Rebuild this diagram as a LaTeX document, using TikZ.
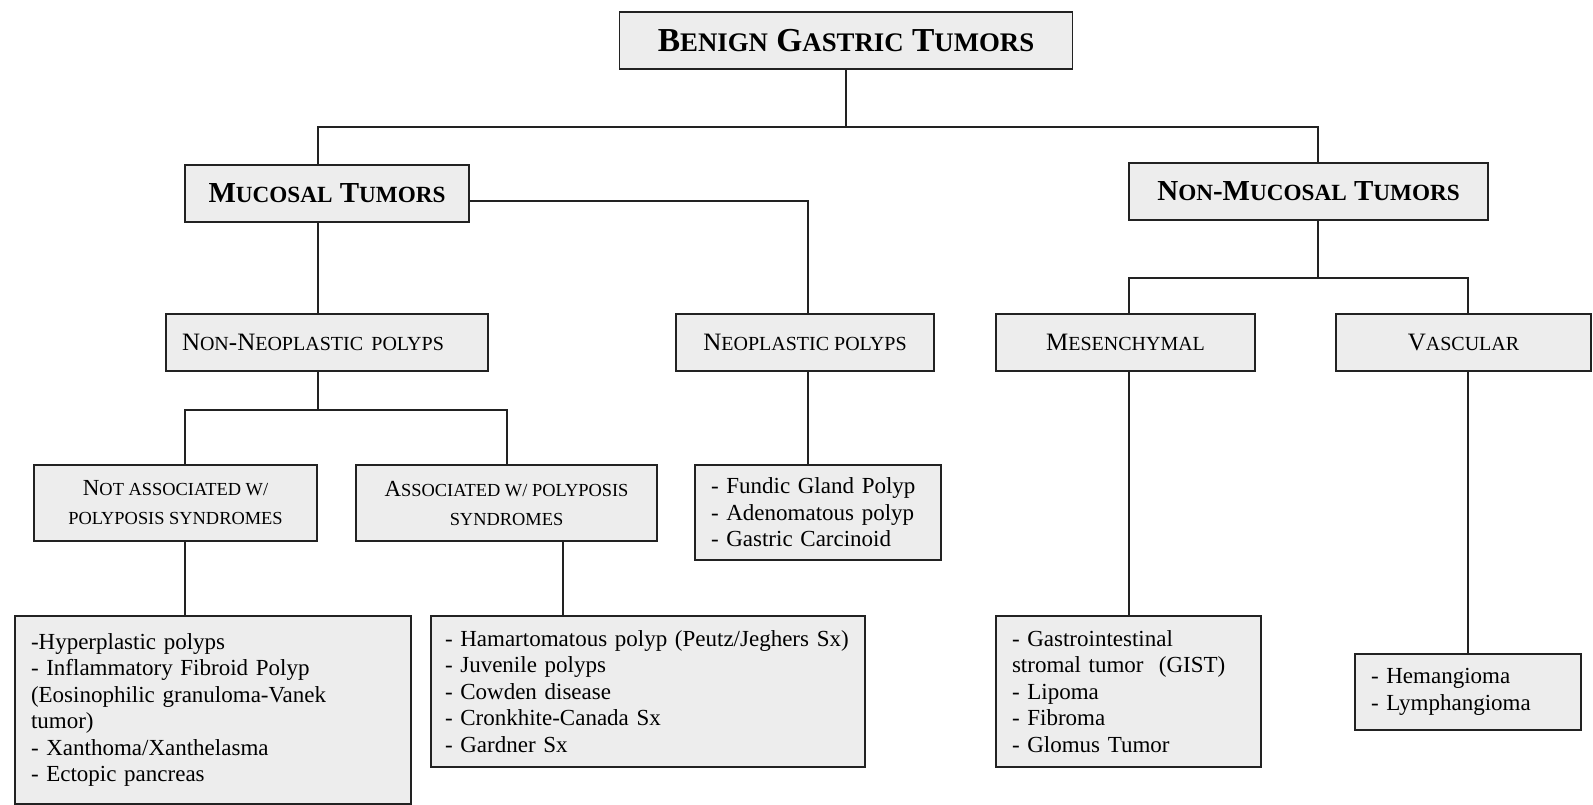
\documentclass[tikz,border=0pt]{standalone}
\usepackage{fontspec}
\setmainfont{Liberation Serif}
\definecolor{gtFill}{HTML}{EDEDED}
\definecolor{gtLine}{HTML}{222222}
\makeatletter
\newcommand{\lowsc}[1]{{\fontsize{\fpeval{0.8*\f@size}}{\f@baselineskip}\selectfont\MakeUppercase{#1}}}
\makeatother
\tikzset{
  box/.style={draw=gtLine, fill=gtFill, line width=1.6pt, inner sep=0pt, align=center},
  headbox/.style={box, font=\fontsize{33.5}{38}\selectfont\bfseries},
  groupbox/.style={box, font=\fontsize{29}{33}\selectfont\bfseries},
  kindbox/.style={box, font=\fontsize{25}{29}\selectfont},
  subbox/.style={box, font=\fontsize{23}{29}\selectfont},
  listbox/.style={box, align=left, inner xsep=16pt, font=\fontsize{23}{26.5}\selectfont},
  link/.style={draw=gtLine, line width=1.6pt},
}
\begin{document}
\begin{tikzpicture}[x=1pt,y=-1pt]
  \useasboundingbox (0,0) rectangle (1593,805);
  \node[headbox, minimum width=453pt, minimum height=57pt] (benign) at (846,40.5)
    {B\lowsc{enign} G\lowsc{astric} T\lowsc{umors}};
  \node[groupbox, minimum width=284pt, minimum height=57pt] (mucosal) at (327,193.5)
    {M\lowsc{ucosal} T\lowsc{umors}};
  \node[groupbox, minimum width=359pt, minimum height=57pt] (nonmucosal) at (1308.5,191.5)
    {N\lowsc{on}-M\lowsc{ucosal} T\lowsc{umors}};
  \node[kindbox, text width=290pt, inner xsep=16pt, align=left, minimum height=57pt] (nonneo) at (327,342.5)
    {N\lowsc{on}-N\lowsc{eoplastic polyps}};
  \node[kindbox, minimum width=258pt, minimum height=57pt] (neo) at (805,342.5)
    {N\lowsc{eoplastic polyps}};
  \node[kindbox, minimum width=259pt, minimum height=57pt] (mesen) at (1125.5,342.5)
    {M\lowsc{esenchymal}};
  \node[kindbox, minimum width=255pt, minimum height=57pt] (vasc) at (1463.5,342.5)
    {V\lowsc{ascular}};
  \node[subbox, minimum width=283pt, minimum height=76pt] (notassoc) at (175.5,503)
    {N\lowsc{ot associated w/}\\\lowsc{polyposis syndromes}};
  \node[subbox, minimum width=301pt, minimum height=76pt] (assoc) at (506.5,503)
    {A\lowsc{ssociated w/ polyposis}\\\lowsc{syndromes}};
  \node[listbox, text width=214pt, minimum height=95pt] (neolist) at (818,512.5)
    {- Fundic Gland Polyp\\- Adenomatous polyp\\- Gastric Carcinoid};
  \node[listbox, text width=364pt, minimum height=188pt] (hyperlist) at (213,710)
    {-Hyperplastic polyps\\- Inflammatory Fibroid Polyp\\(Eosinophilic granuloma-Vanek\\tumor)\\- Xanthoma/Xanthelasma\\- Ectopic pancreas};
  \node[listbox, text width=406pt, inner xsep=14pt, minimum height=151pt] (assoclist) at (648,691.5)
    {\mbox{- Hamartomatous polyp (Peutz/Jeghers Sx)}\\- Juvenile polyps\\- Cowden disease\\- Cronkhite-Canada Sx\\- Gardner Sx};
  \node[listbox, text width=233pt, minimum height=151pt] (gistlist) at (1128.5,691.5)
    {- Gastrointestinal\\stromal tumor\ \ (GIST)\\- Lipoma\\- Fibroma\\- Glomus Tumor};
  \node[listbox, text width=194pt, minimum height=76pt] (vasclist) at (1468,692)
    {- Hemangioma\\- Lymphangioma};
  \draw[link] (benign.south) -- ++(0,57) coordinate (bus1);
  \draw[link] ([xshift=-9pt]mucosal.north) |- (bus1) -| ([xshift=9.5pt]nonmucosal.north);
  \draw[link] ([yshift=-7.5pt]mucosal.east) -| ([xshift=3pt]neo.north);
  \draw[link] ([xshift=-9pt]mucosal.south) -- ([xshift=-9pt]nonneo.north);
  \draw[link] ([xshift=-9pt]nonneo.south) -- ++(0,38) coordinate (bus2);
  \draw[link] ([xshift=9.5pt]notassoc.north) |- (bus2) -| ([xshift=0.5pt]assoc.north);
  \draw[link] ([xshift=9.5pt]notassoc.south) -- ([xshift=-28pt]hyperlist.north);
  \draw[link] ([xshift=56.5pt]assoc.south) -- ([xshift=-85pt]assoclist.north);
  \draw[link] ([xshift=3pt]neo.south) -- ([xshift=-10pt]neolist.north);
  \draw[link] ([xshift=9.5pt]nonmucosal.south) -- ++(0,57) coordinate (bus3);
  \draw[link] ([xshift=3.5pt]mesen.north) |- (bus3) -| ([xshift=4.5pt]vasc.north);
  \draw[link] ([xshift=3.5pt]mesen.south) -- ([xshift=0.5pt]gistlist.north);
  \draw[link] ([xshift=4.5pt]vasc.south) -- (vasclist.north);
\end{tikzpicture}
\end{document}
